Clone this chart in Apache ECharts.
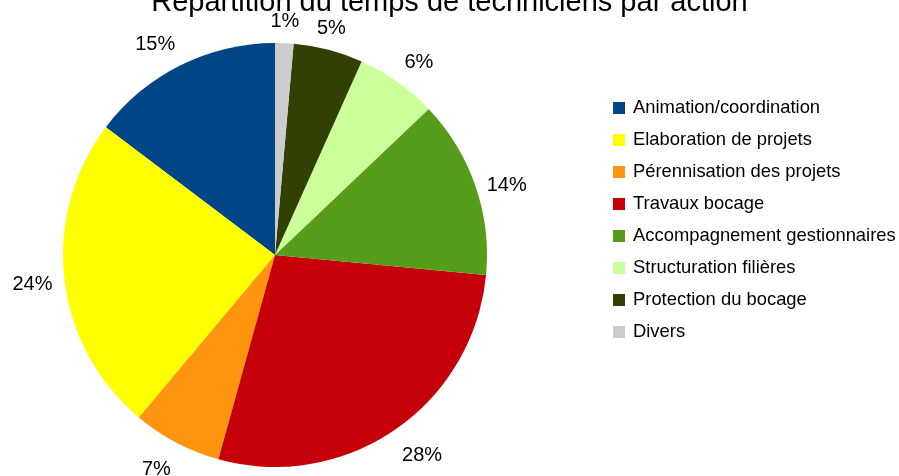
<!DOCTYPE html>
<html>
<head>
<meta charset="utf-8">
<script src="https://cdn.jsdelivr.net/npm/echarts@6/dist/echarts.min.js"></script>
<style>
  html, body { margin: 0; padding: 0; background: #fff; }
  #chart { width: 899px; height: 476px; }
</style>
</head>
<body>
<div id="chart"></div>
<script>
// actions, dans l'ordre de la légende
const actions = [
  'Animation/coordination',
  'Elaboration de projets',
  'Pérennisation des projets',
  'Travaux bocage',
  'Accompagnement gestionnaires',
  'Structuration filières',
  'Protection du bocage',
  'Divers'
]
// part du temps (%)
const parts = [14.7, 24.2, 6.8, 27.8, 13.6, 6.2, 5.3, 1.4]
const couleurs = ['#004586', '#ffff00', '#ff950e', '#c5000b', '#579d1c', '#ccff99', '#314004', '#cccccc']

const chart = echarts.init(document.getElementById('chart'))

// étiquettes posées comme dans LibreOffice : le coin du texte le plus
// proche du camembert est accroché au bout du trait (invisible)
function placeLabel(params) {
  const pts = params.labelLinePoints
  if (!pts) return {}
  const dx = pts[1][0] - pts[0][0]
  const dy = pts[1][1] - pts[0][1]
  const len = Math.sqrt(dx * dx + dy * dy) || 1
  const ux = dx / len
  const uy = dy / len
  const lim = 0.38
  const middle = Math.abs(uy) < lim
  return {
    x: pts[1][0],
    y: pts[1][1],
    dy: middle ? 4 : 0,
    align: Math.abs(ux) < lim ? 'center' : (ux > 0 ? 'left' : 'right'),
    verticalAlign: middle ? 'middle' : (uy > 0 ? 'top' : 'bottom')
  }
}

const option = {
  animation: false,
  title: {
    text: 'Répartition du temps de techniciens par action',
    left: 'center',
    top: -17,
    textStyle: {
      fontFamily: 'Liberation Sans',
      fontSize: 29,
      fontWeight: 'normal',
      color: '#000'
    }
  },
  legend: {
    orient: 'vertical',
    left: 608,
    top: 94,
    itemWidth: 12,
    itemHeight: 12,
    itemGap: 14,
    icon: 'rect',
    data: actions,
    textStyle: {
      fontFamily: 'Liberation Sans',
      fontSize: 18.4,
      lineHeight: 18,
      color: '#000',
      padding: [0, 0, 0, 3]
    }
  },
  series: [
    {
      type: 'pie',
      center: [275, 255],
      radius: 212,
      startAngle: 90,
      clockwise: false,
      percentPrecision: 0,
      avoidLabelOverlap: false,
      data: actions.map((name, i) => ({
        name: name,
        value: parts[i],
        itemStyle: { color: couleurs[i] }
      })),
      label: {
        show: true,
        position: 'outside',
        formatter: '{d}%',
        fontFamily: 'Liberation Sans',
        fontSize: 20,
        color: '#000',
        padding: [6, 0, 0, 0]
      },
      labelLine: {
        show: true,
        length: 12,
        length2: 0,
        lineStyle: { width: 0, opacity: 0 }
      },
      labelLayout: placeLabel,
      emphasis: { disabled: true }
    }
  ]
}

chart.setOption(option)
</script>
</body>
</html>
